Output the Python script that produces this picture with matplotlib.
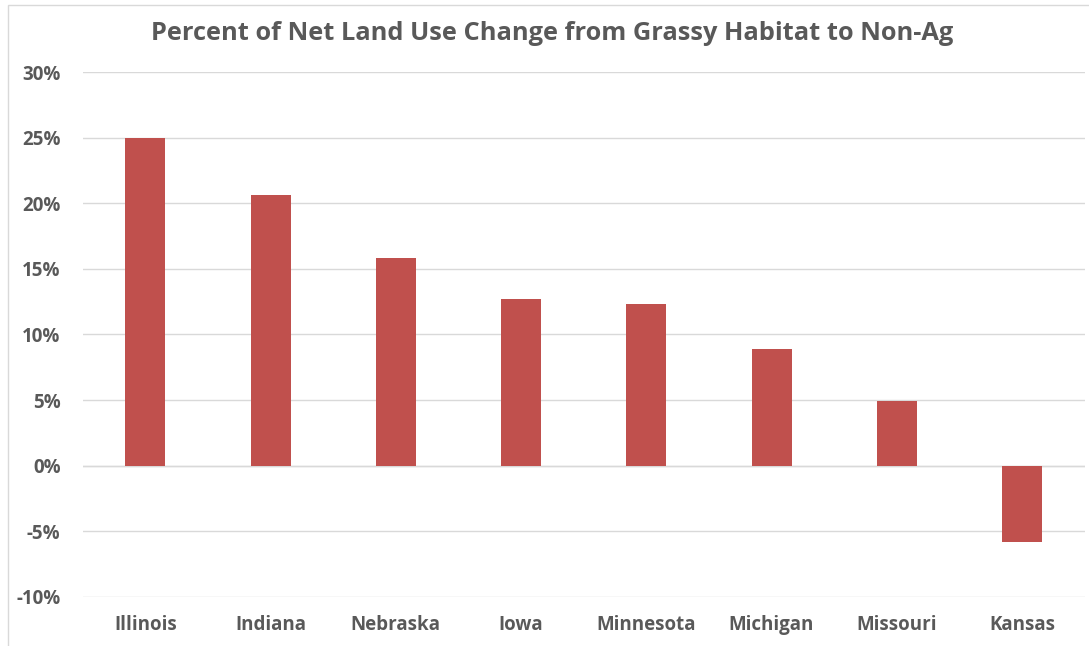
import matplotlib
matplotlib.use("Agg")
import matplotlib.pyplot as plt
from matplotlib.patches import Rectangle
from matplotlib.ticker import FuncFormatter, MultipleLocator

states = ["Illinois", "Indiana", "Nebraska", "Iowa", "Minnesota", "Michigan", "Missouri", "Kansas"]
values = [25.0, 20.6, 15.8, 12.7, 12.3, 8.9, 4.9, -5.8]
title = "Percent of Net Land Use Change from Grassy Habitat to Non-Ag"

plt.rcParams['font.family'] = ['Open Sans', 'DejaVu Sans']

fig = plt.figure(figsize=(10.89, 6.46), dpi=100)
fig.patches.append(Rectangle((0.007, -0.01), 1.1, 1.002, transform=fig.transFigure,
                             fill=False, edgecolor="#D9D9D9", linewidth=1.0))
ax = fig.add_axes([0.076, 0.0759, 0.92, 0.8126])

x = range(len(states))
ax.bar(x, values, width=0.32, color="#C0504D", zorder=3)
ax.set_xlim(-0.5, len(states) - 0.5)
ax.set_ylim(-10, 30)
ax.yaxis.set_major_locator(MultipleLocator(5))
ax.yaxis.set_major_formatter(FuncFormatter(lambda v, p: f"{v:.0f}%"))
ax.set_xticks(list(x))
ax.set_xticklabels(states)
ax.grid(axis="y", color="#D9D9D9", linewidth=1.0, zorder=0)
for s in ax.spines.values():
    s.set_visible(False)
ax.axhline(0, color="#D9D9D9", linewidth=1.0, zorder=2)
ax.tick_params(axis="both", length=0, colors="#595959", labelsize=13.5)
ax.tick_params(axis="y", pad=16)
ax.tick_params(axis="x", pad=13)
for lbl in ax.get_xticklabels() + ax.get_yticklabels():
    lbl.set_fontweight("bold")
fig.text(0.507, 0.948, title, ha="center", va="center", fontsize=18.3,
         color="#595959", fontweight="bold")
fig.savefig("out.png", dpi=100)
